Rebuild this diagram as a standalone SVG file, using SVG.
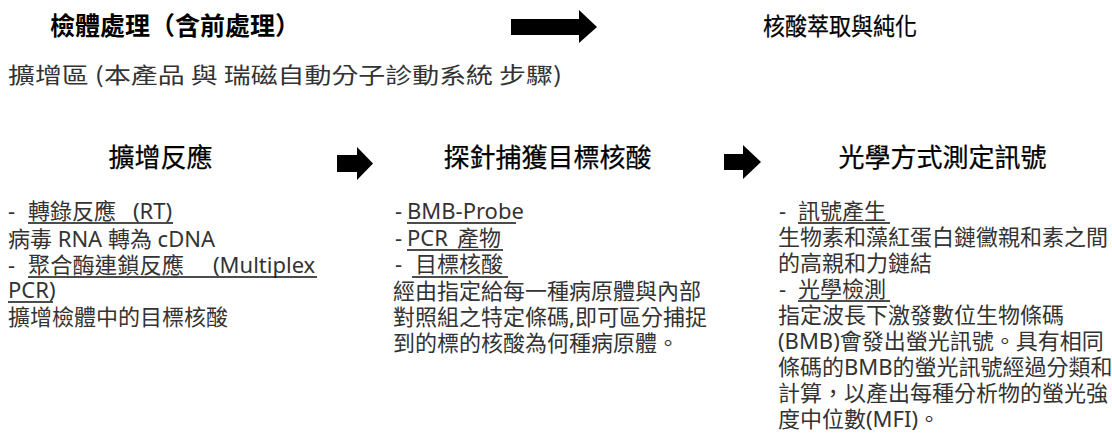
<svg xmlns="http://www.w3.org/2000/svg" width="1112" height="437" viewBox="0 0 1112 437">
<style>
.t1{font-family:"Noto Sans CJK TC","Noto Sans CJK SC",sans-serif;font-size:25px;font-weight:700;fill:#000}
.t2{font-family:"Noto Sans CJK TC","Noto Sans CJK SC",sans-serif;font-size:24px;font-weight:400;fill:#000;stroke:#000;stroke-width:0.25}
.sub{font-family:"Noto Sans CJK TC","Noto Sans CJK SC",sans-serif;font-size:22px;fill:#333}
.h{font-family:"Noto Sans CJK TC","Noto Sans CJK SC",sans-serif;font-size:26px;font-weight:400;fill:#000;stroke:#000;stroke-width:0.25;text-anchor:middle}
.b{font-family:"Noto Sans","Noto Sans CJK TC",sans-serif;font-size:22px;fill:#333}
.ul{stroke:#111;stroke-width:1.6}
.arrow{fill:#000}
</style>
<g id="title-left">
<text class="t1" x="50" y="35">檢體處理（含前處理）</text>
</g>
<g id="title-right">
<text class="t2" x="763" y="35" textLength="154" lengthAdjust="spacingAndGlyphs">核酸萃取與純化</text>
</g>
<g id="subtitle">
<text class="sub" x="8" y="83" textLength="554" lengthAdjust="spacingAndGlyphs">擴增區 (本產品 與 瑞磁自動分子診動系統 步驟)</text>
</g>
<g id="step-amplification">
<text class="h" x="160.5" y="167">擴增反應</text>
<text class="b" font-size="21"><tspan x="8" y="219">-</tspan><tspan x="28" y="219">轉錄反應</tspan><tspan x="133" y="219">(RT)</tspan><tspan x="8" y="247">病毒 RNA 轉為 cDNA</tspan><tspan x="8" y="273">-</tspan><tspan x="28" y="273" textLength="156" lengthAdjust="spacingAndGlyphs">聚合酶連鎖反應</tspan><tspan x="213" y="273">(Multiplex</tspan><tspan x="8" y="298">PCR)</tspan><tspan x="8" y="325">擴增檢體中的目標核酸</tspan></text>
<line class="ul" x1="28" y1="223" x2="173" y2="223"/>
<line class="ul" x1="28" y1="277" x2="317" y2="277"/>
<line class="ul" x1="8" y1="302" x2="53" y2="302"/>
</g>
<g id="step-capture">
<text class="h" x="547.5" y="167">探針捕獲目標核酸</text>
<text class="b"><tspan x="395" y="219">-</tspan><tspan x="407" y="219">BMB-Probe</tspan><tspan x="395" y="246">-</tspan><tspan x="407" y="246">PCR</tspan><tspan x="457" y="246">產物</tspan><tspan x="395" y="272">-</tspan><tspan x="415" y="272">目標核酸</tspan><tspan x="393" y="299">經由指定給每一種病原體與內部</tspan><tspan x="393" y="325">對照組之特定條碼,即可區分捕捉</tspan><tspan x="393" y="351">到的標的核酸為何種病原體。</tspan></text>
<line class="ul" x1="407" y1="223" x2="516" y2="223"/>
<line class="ul" x1="407" y1="250" x2="503" y2="250"/>
<line class="ul" x1="412" y1="277" x2="508" y2="277"/>
</g>
<g id="step-detection">
<text class="h" x="942.5" y="167">光學方式測定訊號</text>
<text class="b"><tspan x="779" y="219">-</tspan><tspan x="798" y="219">訊號產生</tspan><tspan x="778" y="245">生物素和藻紅蛋白鏈黴親和素之間</tspan><tspan x="778" y="271">的高親和力鏈結</tspan><tspan x="779" y="297">-</tspan><tspan x="798" y="297">光學檢測</tspan><tspan x="778" y="323">指定波長下激發數位生物條碼</tspan><tspan x="778" y="349">(BMB)會發出螢光訊號。具有相同</tspan><tspan x="778" y="375">條碼的BMB的螢光訊號經過分類和</tspan><tspan x="778" y="401">計算，以產出每種分析物的螢光強</tspan><tspan x="778" y="427">度中位數(MFI)。</tspan></text>
<line class="ul" x1="798" y1="223" x2="890" y2="223"/>
<line class="ul" x1="798" y1="301" x2="890" y2="301"/>
</g>
<g id="connectors">
<polygon class="arrow" points="511,19 579,19 579,10 597,27 579,43 579,35 511,35"/>
<polygon class="arrow" points="337,155 357,155 357,147 373,163.5 357,180 357,172 337,172"/>
<polygon class="arrow" points="724,154 743,154 743,145 761,162 743,179 743,170 724,170"/>
</g>
</svg>
